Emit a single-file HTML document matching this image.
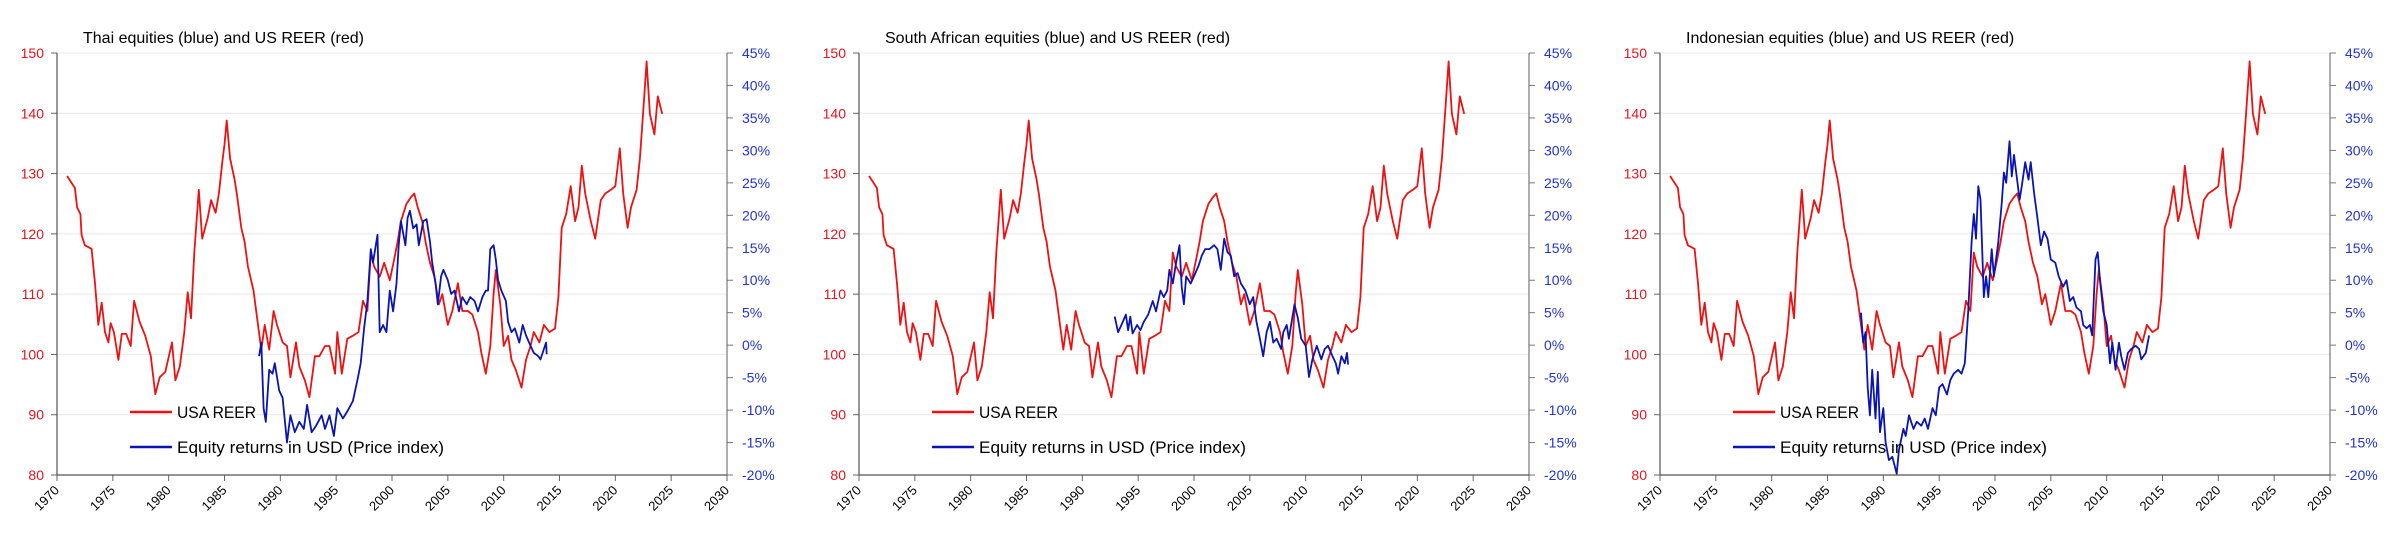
<!DOCTYPE html>
<html><head><meta charset="utf-8"><style>
html,body{margin:0;padding:0;background:#fff;}
svg{display:block;font-family:"Liberation Sans",sans-serif;}
</style></head><body>
<svg id="chart" width="2400" height="545" viewBox="0 0 2400 545" xmlns="http://www.w3.org/2000/svg"></svg>
<script>
const reerYears=[1970.9,1971.6,1971.8,1972.1,1972.2,1972.5,1972.8,1973.1,1973.4,1973.7,1974.0,1974.3,1974.6,1974.8,1975.1,1975.5,1975.8,1976.2,1976.6,1976.9,1977.4,1977.9,1978.4,1978.8,1979.2,1979.7,1980.3,1980.6,1981.0,1981.4,1981.7,1982.0,1982.3,1982.7,1983.0,1983.5,1983.8,1984.2,1984.5,1984.8,1985.0,1985.2,1985.5,1985.9,1986.1,1986.5,1986.8,1987.1,1987.6,1988.0,1988.3,1988.6,1989.0,1989.4,1989.7,1990.2,1990.6,1990.9,1991.4,1991.7,1992.2,1992.6,1993.1,1993.5,1994.0,1994.4,1994.9,1995.1,1995.5,1996.0,1996.5,1997.0,1997.4,1997.8,1998.1,1998.4,1998.9,1999.3,1999.8,2000.2,2000.5,2000.8,2001.3,2001.7,2002.0,2002.3,2002.7,2003.0,2003.4,2003.8,2004.2,2004.5,2005.0,2005.4,2005.9,2006.3,2006.8,2007.2,2007.7,2008.0,2008.4,2008.8,2009.1,2009.3,2009.7,2010.0,2010.4,2010.7,2011.1,2011.6,2012.0,2012.4,2012.7,2013.2,2013.6,2014.1,2014.6,2014.9,2015.2,2015.6,2016.0,2016.4,2016.7,2017.0,2017.3,2017.8,2018.2,2018.7,2019.1,2019.6,2020.0,2020.4,2020.7,2021.1,2021.4,2021.9,2022.2,2022.5,2022.8,2023.1,2023.5,2023.8,2024.2];
const reerValues=[129.6,127.6,124.4,123.3,119.8,118.1,117.8,117.5,111.8,104.9,108.6,103.7,102,105.2,103.7,99.1,103.4,103.4,101.4,108.9,105.4,103.1,99.7,93.4,96.2,97.1,102,95.7,98,103.7,110.3,106,116.9,127.3,119.2,122.7,125.6,123.5,126.7,131.9,134.8,138.8,132.5,129,126.7,121,118.7,114.6,110.6,104.9,100.8,104.9,100.8,107.2,104.9,102,101.4,96.2,102,98,95.7,92.9,99.7,99.7,101.4,101.4,96.8,103.7,96.8,102.6,103.1,103.7,108.9,107.2,116.9,114.6,112.9,115.2,112.3,115.8,118.7,122.1,125,126.1,126.7,124.4,122.1,118.7,115.2,112.9,108.3,110,104.9,107.2,111.8,107.2,107.2,106.6,103.7,100.3,96.8,101.4,110,114,108.3,101.4,103.1,99.1,97.4,94.5,99.1,101.4,103.7,102,104.9,103.7,104.3,109.5,121,123.3,127.9,122.1,124.4,131.3,126.7,122.1,119.2,125.6,126.7,127.3,127.9,134.2,126.7,121,124.4,127.3,132.5,140.5,148.6,139.9,136.5,142.8,139.9];
const thaiYears=[1988.1,1988.3,1988.5,1988.7,1989.0,1989.3,1989.5,1989.9,1990.2,1990.6,1990.9,1991.3,1991.7,1992.1,1992.4,1992.8,1993.2,1993.7,1994.0,1994.4,1994.8,1995.1,1995.6,1996.0,1996.5,1996.9,1997.2,1997.5,1997.8,1998.1,1998.3,1998.7,1998.9,1999.2,1999.5,1999.8,2000.1,2000.4,2000.6,2000.8,2001.2,2001.4,2001.6,2001.9,2002.2,2002.4,2002.8,2003.1,2003.4,2003.6,2003.9,2004.1,2004.4,2004.6,2005.0,2005.3,2005.6,2006.0,2006.3,2006.7,2007.0,2007.4,2007.7,2008.1,2008.4,2008.6,2008.8,2009.1,2009.3,2009.5,2009.8,2010.2,2010.4,2010.7,2011.0,2011.4,2011.7,2012.0,2012.4,2012.7,2013.1,2013.3,2013.6,2013.8,2013.85];
const thaiValues=[-1.7,0.4,-9.7,-11.8,-3.8,-4.4,-2.8,-7.0,-8.1,-15.0,-10.8,-13.4,-11.8,-12.9,-9.2,-13.4,-12.4,-10.8,-12.9,-10.8,-14.0,-9.7,-11.3,-10.2,-8.6,-5.4,-2.8,2.6,6.8,14.8,12.7,17.0,2.0,3.1,2.0,8.4,5.2,9.5,15.4,19.1,15.4,19.6,20.7,18.0,18.6,15.4,19.1,19.4,15.9,12.7,9.5,6.3,10.6,11.6,10.0,7.9,8.4,5.2,7.4,6.3,7.4,6.8,5.2,7.4,8.4,8.4,14.8,15.4,13.2,10.0,8.4,6.8,3.6,2.0,2.6,0.4,3.1,1.5,-0.1,-1.2,-1.7,-2.2,-0.6,0.4,-1.4];
const saYears=[1992.9,1993.2,1993.5,1993.9,1994.1,1994.3,1994.5,1994.9,1995.2,1995.5,1995.9,1996.3,1996.6,1997.0,1997.3,1997.6,1997.8,1998.1,1998.4,1998.7,1998.9,1999.1,1999.3,1999.7,2000.0,2000.4,2000.7,2001.0,2001.4,2001.8,2002.1,2002.4,2002.7,2003.0,2003.3,2003.6,2003.9,2004.2,2004.6,2005.0,2005.3,2005.6,2005.9,2006.2,2006.5,2006.8,2007.1,2007.4,2007.8,2008.0,2008.3,2008.5,2008.8,2009.0,2009.3,2009.6,2010.0,2010.3,2010.6,2011.0,2011.4,2011.7,2012.0,2012.4,2012.7,2012.9,2013.2,2013.5,2013.7,2013.8];
const saValues=[4.4,2.0,3.1,4.7,2.3,4.4,1.8,3.1,2.3,3.6,4.7,6.8,5.2,8.4,7.4,8.4,11.6,9.5,12.7,15.4,9.0,6.3,10.6,9.5,10.6,12.2,13.8,14.8,14.8,15.4,14.8,11.6,16.4,14.3,13.8,10.6,11.1,9.5,8.4,6.3,7.4,3.6,1.0,-1.7,2.0,3.6,0.4,1.0,-0.6,2.0,3.1,1.0,4.2,6.3,4.2,1.0,-0.1,-4.9,-2.2,-0.1,-2.2,-0.6,-0.1,-1.7,-2.8,-4.4,-1.7,-2.8,-1.2,-3.0];
const indoYears=[1988.0,1988.2,1988.4,1988.6,1988.8,1989.0,1989.3,1989.5,1989.7,1990.0,1990.2,1990.5,1990.8,1991.2,1991.4,1991.8,1992.0,1992.3,1992.7,1993.0,1993.4,1993.7,1994.0,1994.4,1994.7,1995.0,1995.3,1995.7,1996.0,1996.3,1996.7,1997.0,1997.3,1997.6,1997.9,1998.1,1998.3,1998.5,1998.7,1999.0,1999.2,1999.4,1999.7,1999.9,2000.3,2000.6,2000.8,2001.0,2001.3,2001.5,2001.7,2001.9,2002.2,2002.4,2002.7,2003.0,2003.2,2003.5,2003.8,2004.1,2004.4,2004.7,2005.0,2005.4,2005.7,2006.1,2006.4,2006.7,2007.0,2007.3,2007.7,2007.9,2008.2,2008.5,2008.7,2009.0,2009.2,2009.4,2009.7,2010.0,2010.3,2010.5,2010.8,2011.1,2011.3,2011.6,2011.9,2012.2,2012.6,2012.9,2013.1,2013.5,2013.8];
const indoValues=[5.0,0.4,2.0,-6.5,-10.8,-3.8,-11.3,-4.1,-13.4,-9.7,-15.0,-17.7,-17.2,-19.8,-16.1,-12.9,-14.0,-10.8,-12.9,-11.8,-12.4,-11.3,-12.9,-9.7,-10.8,-6.5,-6.0,-7.6,-5.4,-4.4,-3.8,-4.4,-2.8,5.2,15.9,20.2,16.4,24.5,22.4,7.4,10.6,7.4,14.8,10.6,15.9,21.8,26.6,25.0,31.4,26.0,29.3,26.6,22.4,24.5,28.2,25.5,28.2,23.4,19.6,15.4,17.5,16.4,13.2,12.7,10.6,9.0,10.0,6.8,7.4,5.8,5.2,3.1,2.6,3.1,1.5,13.2,14.3,10.0,5.2,3.1,-2.8,0.4,-3.8,0.4,-1.7,-3.8,-1.2,-0.6,-0.1,-0.6,-2.2,-1.2,1.5];
const leftTicks=[80,90,100,110,120,130,140,150];
const rightTicks=[-20,-15,-10,-5,0,5,10,15,20,25,30,35,40,45];
const yearTicks=[1970,1975,1980,1985,1990,1995,2000,2005,2010,2015,2020,2025,2030];
const panelTitles=["Thai equities (blue) and US REER (red)","South African equities (blue) and US REER (red)","Indonesian equities (blue) and US REER (red)"];
const panelNames=["thai","south-africa","indonesia"];

const NS="http://www.w3.org/2000/svg";
const svg=document.getElementById('chart');
const offs=[0,802,1603];
const PW=670, TOP=53, BOT=475;
function mk(tag,attrs,parent){const e=document.createElementNS(NS,tag);for(const k in attrs)e.setAttribute(k,attrs[k]);parent.appendChild(e);return e;}
function xS(o,yr){return 57+o+(yr-1970)*PW/60;}
function yL(v){return TOP+(150-v)*(BOT-TOP)/70;}
function yR(p){return TOP+(45-p)*(BOT-TOP)/65;}
function pathD(o,xs,vs,yf){return xs.map((x,i)=>(i?'L':'M')+xS(o,x).toFixed(1)+','+yf(vs[i]).toFixed(1)).join('');}
const blues=[[thaiYears,thaiValues],[saYears,saValues],[indoYears,indoValues]];
offs.forEach((o,pi)=>{
  const g=mk('g',{},svg);
  
  
  const t=mk('text',{x:83+o,y:43,'font-size':16,fill:'#000'},g);t.textContent=panelTitles[pi];
  
  
  leftTicks.forEach(v=>{
    const y=yL(v);
    if(v>80){const gl=mk('line',{x1:57+o,x2:57+o+PW,y1:y,y2:y,stroke:'#e8e8e8','stroke-width':1},g);
      
      }
    mk('line',{x1:51+o,x2:57+o,y1:y,y2:y,stroke:'#666','stroke-width':1},g);
    const lt=mk('text',{x:44+o,y:y+5,'font-size':14,fill:'#e8141e','text-anchor':'end'},g);lt.textContent=v;
    
    
  });
  rightTicks.forEach(p=>{
    const y=yR(p);
    mk('line',{x1:57+o+PW,x2:63+o+PW,y1:y,y2:y,stroke:'#777','stroke-width':1},g);
    const rt=mk('text',{x:742+o,y:y+5,'font-size':14,fill:'#2233cc'},g);rt.textContent=p+'%';
    
    
  });
  yearTicks.forEach(yr=>{
    const x=xS(o,yr);
    mk('line',{x1:x,x2:x,y1:BOT,y2:BOT+6,stroke:'#666','stroke-width':1},g);
    const xt=mk('text',{x:x+3,y:BOT+16,'font-size':13,fill:'#000','text-anchor':'end',transform:`rotate(-45 ${x+3} ${BOT+16})`},g);xt.textContent=yr;
    
    
  });
  const la=mk('line',{x1:57+o,x2:57+o,y1:TOP,y2:BOT,stroke:'#555','stroke-width':1.2},g);
  
  
  const ra=mk('line',{x1:57+o+PW,x2:57+o+PW,y1:TOP,y2:BOT,stroke:'#777','stroke-width':1.2},g);
  
  
  const xa=mk('line',{x1:57+o,x2:57+o+PW,y1:BOT,y2:BOT,stroke:'#555','stroke-width':1.2},g);
  
  
  const red=mk('path',{d:pathD(o,reerYears,reerValues,yL),fill:'none',stroke:'#ee1111','stroke-width':1.8,'stroke-linejoin':'round'},g);
  
  
  const blue=mk('path',{d:pathD(o,blues[pi][0],blues[pi][1],yR),fill:'none',stroke:'#0a14b4','stroke-width':1.8,'stroke-linejoin':'round'},g);
  
  
  // legend
  const lg=mk('g',{},g);
  
  
  mk('line',{x1:130+o,x2:172+o,y1:412,y2:412,stroke:'#ee1111','stroke-width':2.5},lg);
  const l1=mk('text',{x:177+o,y:418,'font-size':17,fill:'#000',textLength:79,lengthAdjust:'spacingAndGlyphs'},lg);l1.textContent='USA REER';
  
  
  mk('line',{x1:130+o,x2:172+o,y1:447,y2:447,stroke:'#0a14b4','stroke-width':2.5},lg);
  const l2=mk('text',{x:177+o,y:453,'font-size':17,fill:'#000',textLength:267,lengthAdjust:'spacingAndGlyphs'},lg);l2.textContent='Equity returns in USD (Price index)';
  
  
});
</script>
</body></html>
